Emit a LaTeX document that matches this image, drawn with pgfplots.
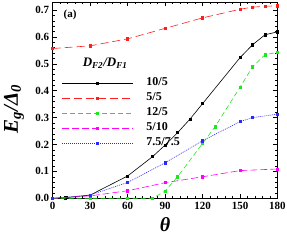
\documentclass[border=0pt]{standalone}
\usepackage{fontspec}
\setmainfont{Liberation Serif}
\usepackage{pgfplots}
\pgfplotsset{compat=1.18}
\definecolor{cred}{RGB}{255,30,30}
\definecolor{cgreen}{RGB}{30,230,30}
\definecolor{cmag}{RGB}{255,0,255}
\definecolor{cblue}{RGB}{40,40,255}
\begin{document}
\begin{tikzpicture}
\useasboundingbox (-52.7pt,-41.7pt) rectangle (234.3pt,198.3pt);
\begin{axis}[at={(0,0)},anchor=south west, scale only axis, width=224.8pt, height=196.3pt,
  clip mode=individual,
  xmin=0,xmax=180,ymin=0,ymax=0.73,
  xtick={0,30,60,90,120,150,180}, ytick={0,0.1,0.2,0.3,0.4,0.5,0.6,0.7},
  minor x tick num=4, minor y tick num=4,
  tick align=inside,
  major tick length=4pt, minor tick length=2pt,
  tick style={line width=0.5pt,black},
  /pgf/number format/assume math mode=true,
  ticklabel style={font=\bfseries\fontsize{11}{11}\selectfont},
  yticklabel style={/pgf/number format/.cd, fixed, fixed zerofill, precision=1},
  every axis plot/.append style={mark size=1.1pt, mark options={solid}},
  legend image code/.code={\draw (0pt,0pt) -- (71pt,0pt); \draw plot[only marks] coordinates {(35.5pt,0pt)};},
  legend cell align=left,
  legend style={draw=none, fill=none, inner sep=0pt, row sep=0pt, column sep=13pt,
    at={(axis description cs:0.04,0.627)}, anchor=north west,
    font=\bfseries\fontsize{12}{12}\selectfont,
    nodes={inner sep=0pt, inner ysep=2pt, text height=8.5pt, text depth=2.5pt}},
]
\addplot[black, line width=0.6pt, mark=square*] coordinates {
(0,0) (10,0.002) (30,0.012) (60,0.083) (80,0.155) (90,0.198) (100,0.244) (110,0.295) (120,0.352) (150,0.523) (160,0.571) (170,0.608) (180,0.619)};
\addlegendentry{10/5}
\addplot[cred, line width=0.6pt, dash pattern=on 8pt off 4pt, mark=square*] coordinates {
(0,0.557) (30,0.567) (60,0.593) (90,0.632) (120,0.671) (150,0.703) (160,0.711) (170,0.714) (180,0.716)};
\addlegendentry{5/5}
\addplot[cgreen, line width=0.6pt, dash pattern=on 5pt off 3pt, mark=square*] coordinates {
(0,0) (30,0) (60,0) (80,0) (90,0.027) (100,0.080) (120,0.204) (130,0.266) (150,0.413) (160,0.489) (170,0.534) (180,0.543)};
\addlegendentry{12/5}
\addplot[cmag, line width=0.6pt, dash pattern=on 7pt off 3pt, mark=square*] coordinates {
(0,0) (30,0.009) (60,0.028) (90,0.058) (120,0.080) (150,0.103) (180,0.109)};
\addlegendentry{5/10}
\addplot[cblue, line width=0.6pt, dash pattern=on 1pt off 1pt, mark=square*] coordinates {
(0,0) (30,0.012) (60,0.059) (90,0.132) (120,0.214) (150,0.285) (160,0.300) (180,0.313)};
\addlegendentry{7.5/7.5}
\node[font=\bfseries\fontsize{11}{11}\selectfont] at (axis description cs:0.077,0.934) {(a)};
\node[font=\bfseries\itshape\fontsize{13}{13}\selectfont] at (axis description cs:0.233,0.689) {D\textsubscript{F2}/D\textsubscript{F1}};
\node[font=\bfseries\itshape\fontsize{20}{20}\selectfont] at (axis description cs:0.5,-0.136) {θ};
\node[font=\bfseries\itshape\fontsize{21}{21}\selectfont, rotate=90] at (axis description cs:-0.172,0.455) {E\textsubscript{g}/Δ\textsubscript{0}};
\end{axis}
\end{tikzpicture}
\end{document}
